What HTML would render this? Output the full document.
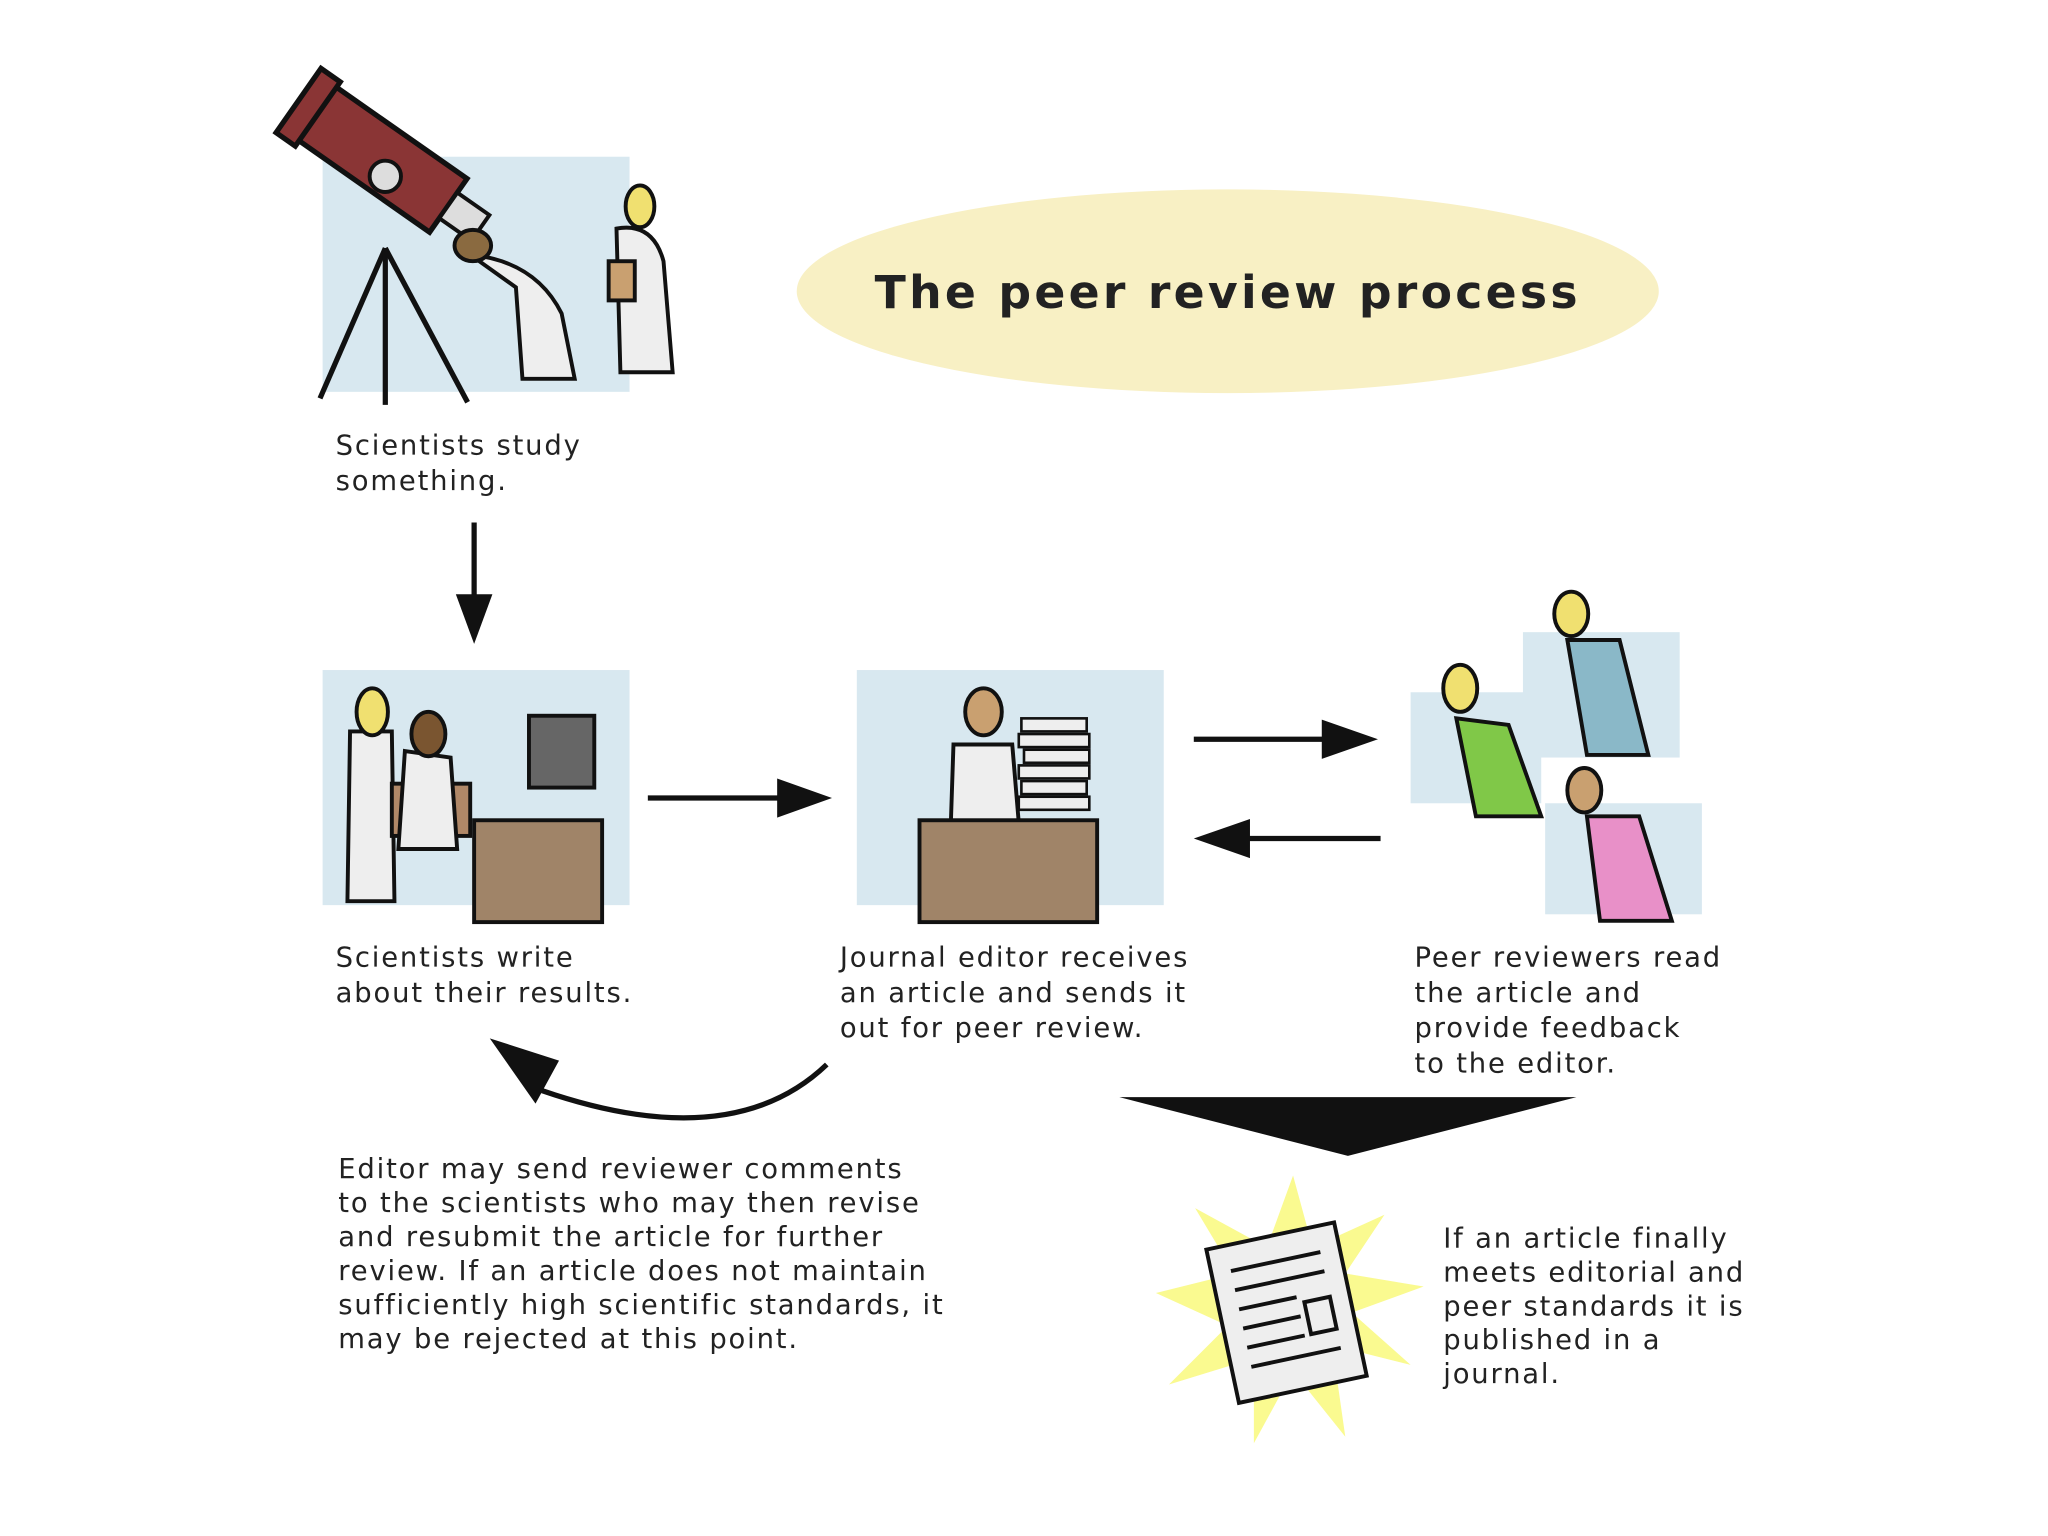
<!DOCTYPE html>
<html><head><meta charset="utf-8"><style>
html,body{margin:0;padding:0;background:#fff;}
svg{display:block;}
text{font-family:"DejaVu Sans","Liberation Sans",sans-serif;fill:#222;}
.t{font-size:21px;letter-spacing:1.4px;}
</style></head><body>
<svg width="2048" height="1536" viewBox="0 0 1568 1176" xmlns="http://www.w3.org/2000/svg">
<rect width="1568" height="1176" fill="#fff"/>
<!-- title ellipse -->
<ellipse cx="940" cy="223" rx="330" ry="78" fill="#f8f0c4"/>
<text x="940" y="236" text-anchor="middle" font-weight="bold" font-size="35" letter-spacing="2.5" fill="#111">The peer review process</text>

<!-- panel 1 -->
<rect x="247" y="120" width="235" height="180" fill="#d8e8f0"/>
<g stroke="#111" stroke-width="4" fill="none">
<line x1="295" y1="190" x2="245" y2="305"/><line x1="295" y1="190" x2="295" y2="310"/><line x1="295" y1="190" x2="358" y2="308"/>
</g>
<g transform="rotate(35 290 120)">
<rect x="225" y="95" width="130" height="50" fill="#8a3535" stroke="#111" stroke-width="4"/>
<rect x="215" y="90" width="18" height="60" fill="#8a3535" stroke="#111" stroke-width="4"/>
<rect x="355" y="108" width="30" height="24" fill="#ddd" stroke="#111" stroke-width="3"/>
</g>
<circle cx="295" cy="135" r="12" fill="#ddd" stroke="#111" stroke-width="3"/>
<path d="M360 195 Q410 200 430 240 L440 290 L400 290 L395 220 Z" fill="#eee" stroke="#111" stroke-width="3"/>
<ellipse cx="362" cy="188" rx="14" ry="12" fill="#8a6a40" stroke="#111" stroke-width="3"/>
<path d="M472 175 Q500 170 508 200 L515 285 L475 285 Z" fill="#eee" stroke="#111" stroke-width="3"/>
<ellipse cx="490" cy="158" rx="11" ry="16" fill="#f0e070" stroke="#111" stroke-width="3"/>
<rect x="466" y="200" width="20" height="30" fill="#c9a070" stroke="#111" stroke-width="3"/>
<text class="t"><tspan x="257" y="348">Scientists study</tspan><tspan x="257" y="375">something.</tspan></text>

<!-- down arrow -->
<line x1="363" y1="400" x2="363" y2="460" stroke="#111" stroke-width="4"/>
<polygon points="349,455 377,455 363,493" fill="#111"/>

<!-- panel 2 -->
<rect x="247" y="513" width="235" height="180" fill="#d8e8f0"/>
<path d="M268 560 L300 560 L302 690 L266 690 Z" fill="#eee" stroke="#111" stroke-width="3"/>
<ellipse cx="285" cy="545" rx="12" ry="18" fill="#f0e070" stroke="#111" stroke-width="3"/>
<rect x="300" y="600" width="60" height="40" fill="#b08868" stroke="#111" stroke-width="3"/>
<path d="M310 575 L345 580 L350 650 L305 650 Z" fill="#eee" stroke="#111" stroke-width="3"/>
<ellipse cx="328" cy="562" rx="13" ry="17" fill="#7a5530" stroke="#111" stroke-width="3"/>
<rect x="405" y="548" width="50" height="55" fill="#666" stroke="#111" stroke-width="3"/>
<rect x="363" y="628" width="98" height="78" fill="#a08468" stroke="#111" stroke-width="3"/>
<text class="t"><tspan x="257" y="740">Scientists write</tspan><tspan x="257" y="767">about their results.</tspan></text>

<!-- arrow right -->
<line x1="496" y1="611" x2="600" y2="611" stroke="#111" stroke-width="4"/>
<polygon points="595,596 637,611 595,626" fill="#111"/>

<!-- panel 3 -->
<rect x="656" y="513" width="235" height="180" fill="#d8e8f0"/>
<path d="M730 570 L775 570 L780 630 L728 630 Z" fill="#eee" stroke="#111" stroke-width="3"/>
<ellipse cx="753" cy="545" rx="14" ry="18" fill="#c9a070" stroke="#111" stroke-width="3"/>
<g fill="#eee" stroke="#111" stroke-width="2">
<rect x="782" y="550" width="50" height="10"/><rect x="780" y="562" width="54" height="10"/><rect x="784" y="574" width="50" height="10"/><rect x="780" y="586" width="54" height="10"/><rect x="782" y="598" width="50" height="10"/><rect x="780" y="610" width="54" height="10"/>
</g>
<rect x="704" y="628" width="136" height="78" fill="#a08468" stroke="#111" stroke-width="3"/>
<text class="t"><tspan x="643" y="740">Journal editor receives</tspan><tspan x="643" y="767">an article and sends it</tspan><tspan x="643" y="794">out for peer review.</tspan></text>

<!-- two arrows -->
<line x1="914" y1="566" x2="1015" y2="566" stroke="#111" stroke-width="4"/>
<polygon points="1012,551 1055,566 1012,581" fill="#111"/>
<line x1="955" y1="642" x2="1057" y2="642" stroke="#111" stroke-width="4"/>
<polygon points="957,627 914,642 957,657" fill="#111"/>

<!-- reviewers -->
<rect x="1080" y="530" width="100" height="85" fill="#d8e8f0"/>
<rect x="1166" y="484" width="120" height="96" fill="#d8e8f0"/>
<rect x="1183" y="615" width="120" height="85" fill="#d8e8f0"/>
<path d="M1200 490 L1240 490 L1262 578 L1215 578 Z" fill="#8ab8c8" stroke="#111" stroke-width="3"/>
<ellipse cx="1203" cy="470" rx="13" ry="17" fill="#f0e070" stroke="#111" stroke-width="3"/>
<path d="M1115 550 L1155 555 L1180 625 L1130 625 Z" fill="#80c848" stroke="#111" stroke-width="3"/>
<ellipse cx="1118" cy="527" rx="13" ry="18" fill="#f0e070" stroke="#111" stroke-width="3"/>
<path d="M1215 625 L1255 625 L1280 705 L1225 705 Z" fill="#e890c8" stroke="#111" stroke-width="3"/>
<ellipse cx="1213" cy="605" rx="13" ry="17" fill="#c9a070" stroke="#111" stroke-width="3"/>
<text class="t"><tspan x="1083" y="740">Peer reviewers read</tspan><tspan x="1083" y="767">the article and</tspan><tspan x="1083" y="794">provide feedback</tspan><tspan x="1083" y="821">to the editor.</tspan></text>

<!-- curved arrow -->
<path d="M633 815 Q560 885 415 835" fill="none" stroke="#111" stroke-width="4"/>
<polygon points="375,795 428,812 410,845" fill="#111"/>
<text class="t"><tspan x="259" y="902">Editor may send reviewer comments</tspan><tspan x="259" y="928">to the scientists who may then revise</tspan><tspan x="259" y="954">and resubmit the article for further</tspan><tspan x="259" y="980">review.  If an article does not maintain</tspan><tspan x="259" y="1006">sufficiently high scientific standards, it</tspan><tspan x="259" y="1032">may be rejected at this point.</tspan></text>

<!-- triangle -->
<polygon points="857,840 1207,840 1032,885" fill="#111"/>

<!-- starburst + book -->
<polygon points="990,900 1005,955 1060,930 1030,975 1090,985 1035,1005 1080,1045 1020,1030 1030,1100 990,1050 960,1105 960,1040 895,1060 940,1015 885,990 945,975 915,925 970,955" fill="#fafa90"/>
<g transform="rotate(-12 985 1005)">
<rect x="935" y="945" width="100" height="120" fill="#eee" stroke="#111" stroke-width="3"/>
<g stroke="#111" stroke-width="3"><line x1="950" y1="965" x2="1020" y2="965"/><line x1="950" y1="980" x2="1020" y2="980"/><line x1="950" y1="995" x2="995" y2="995"/><line x1="950" y1="1010" x2="995" y2="1010"/><line x1="950" y1="1025" x2="995" y2="1025"/><line x1="950" y1="1040" x2="1020" y2="1040"/></g>
<rect x="1000" y="1000" width="20" height="25" fill="none" stroke="#111" stroke-width="3"/>
</g>
<text class="t"><tspan x="1105" y="955">If an article finally</tspan><tspan x="1105" y="981">meets editorial and</tspan><tspan x="1105" y="1007">peer standards it is</tspan><tspan x="1105" y="1033">published in a</tspan><tspan x="1105" y="1059">journal.</tspan></text>
</svg>
</body></html>
